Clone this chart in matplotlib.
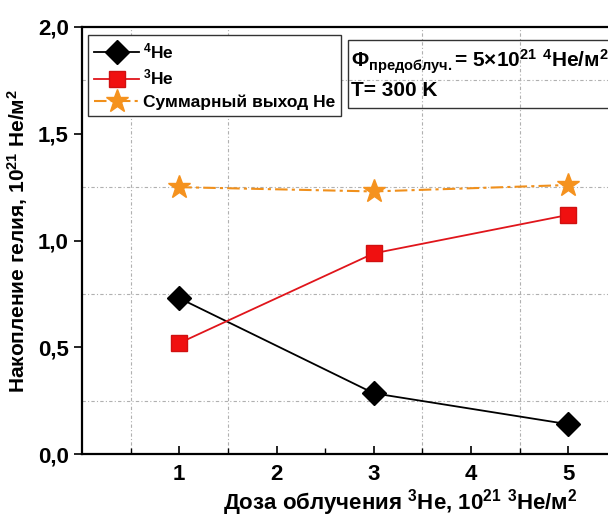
import matplotlib
matplotlib.use("Agg")
import matplotlib.pyplot as plt
from matplotlib.ticker import FuncFormatter, MultipleLocator, FixedLocator

plt.rcParams['font.family'] = ['Liberation Sans', 'DejaVu Sans']
plt.rcParams['font.weight'] = 'bold'
plt.rcParams['mathtext.fontset'] = 'custom'
plt.rcParams['mathtext.bf'] = 'Liberation Sans:bold'
plt.rcParams['mathtext.rm'] = 'Liberation Sans:bold'
plt.rcParams['mathtext.it'] = 'Liberation Serif'
plt.rcParams['mathtext.default'] = 'bf'

# dose of 3He irradiation, 10^21 3He/m^2
dose = [1, 3, 5]
he4 = [0.73, 0.285, 0.14]
he3 = [0.52, 0.94, 1.12]
total = [1.25, 1.23, 1.26]

fig = plt.figure(figsize=(6.08, 5.19), dpi=100)
ax = fig.add_axes([0.135, 0.125, 0.865, 0.823])

ax.plot(dose, he4, color='black', lw=1.3, marker='D', ms=12,
        mfc='black', mec='black', label='$^4$Не', zorder=4)
ax.plot(dose, he3, color='#e0151b', lw=1.3, marker='s', ms=11,
        mfc='#f01010', mec='#d01010', label='$^3$Не', zorder=4)
ax.plot(dose, total, color='#f0901c', lw=1.5, ls=(0, (6, 2, 1.5, 2)),
        marker='*', ms=17, mfc='#f5921e', mec='#f5921e',
        label='Суммарный выход Не', zorder=3)

ax.set_xlim(0, 5.41)
ax.set_ylim(0, 2.0)
ax.xaxis.set_major_locator(MultipleLocator(1))
ax.xaxis.set_minor_locator(FixedLocator([0.5, 1.5, 2.5, 3.5, 4.5]))
ax.yaxis.set_major_locator(MultipleLocator(0.5))
ax.yaxis.set_minor_locator(MultipleLocator(0.25))

comma = FuncFormatter(lambda v, p: f"{v:.1f}".replace('.', ','))
ax.yaxis.set_major_formatter(comma)
ax.xaxis.set_major_formatter(FuncFormatter(lambda v, p: f"{int(v)}" if v > 0 else ""))

ax.tick_params(axis='x', which='major', direction='in', length=6, width=1.2,
               labelsize=16, pad=7)
ax.tick_params(axis='x', which='minor', direction='in', length=4, width=1.0)
ax.tick_params(axis='y', which='major', direction='out', length=6, width=1.2,
               labelsize=16)
ax.tick_params(axis='y', which='minor', length=0)

# dotted grid at half-steps
for gx in [0.5, 1.5, 3.5, 4.5]:
    ax.axvline(gx, color='#b0b0b0', lw=0.8, ls=(0, (3, 2, 1, 2)), zorder=1)
for gy in [0.25, 0.75, 1.25, 1.75]:
    ax.axhline(gy, color='#b0b0b0', lw=0.8, ls=(0, (3, 2, 1, 2)), zorder=1)

for side in ['left', 'bottom', 'top']:
    ax.spines[side].set_linewidth(1.6)
ax.spines['right'].set_visible(False)

ax.set_xlabel('Доза облучения $^3$Не, 10$^{21}$ $^3$Не/м$^2$', fontsize=16,
              fontweight='bold', va='center')
ax.xaxis.set_label_coords(0.605, -0.113)
ax.set_ylabel('Накопление гелия, 10$^{21}$ Не/м$^2$', fontsize=15,
              fontweight='bold', labelpad=6)

leg = ax.legend(loc='upper left', bbox_to_anchor=(88 / 608, 1 - 35 / 519),
                bbox_transform=fig.transFigure, borderaxespad=0,
                fancybox=False, edgecolor='#333333', framealpha=1,
                prop={'family': 'Liberation Sans', 'weight': 'bold', 'size': 12.5},
                handlelength=2.6, handletextpad=0.2, labelspacing=0.4,
                borderpad=0.35)
leg.get_frame().set_linewidth(1.0)

fig.text(351 / 608, 1 - 62 / 519,
         r'$\mathit{\Phi}_{предоблуч.}$= 5×10$^{21}$ $^4$Не/м$^2$',
         fontsize=15, fontweight='bold', va='center', ha='left')
fig.text(351 / 608, 1 - 90 / 519, 'T= 300 K', fontsize=15,
         fontweight='bold', va='center', ha='left')
box = plt.Rectangle((348 / 608, 1 - 108 / 519), 0.5, 68 / 519,
                    transform=fig.transFigure, fill=False,
                    edgecolor='#333333', lw=1.0)
fig.add_artist(box)

fig.savefig('out.png', dpi=100)
